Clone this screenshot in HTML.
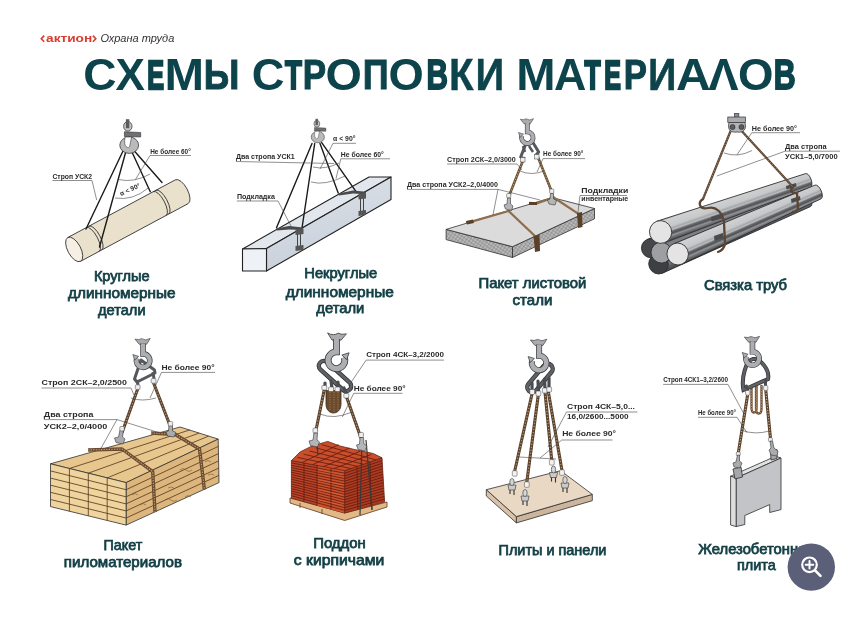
<!DOCTYPE html>
<html><head><meta charset="utf-8"><style>
html,body{margin:0;padding:0;background:#fff;width:867px;height:633px;overflow:hidden}
svg{display:block;will-change:transform;filter:blur(0.35px)}
.t{font-family:"Liberation Sans",sans-serif;font-weight:bold}
.lb{font-family:"Liberation Sans",sans-serif;font-weight:normal;fill:#123f45;stroke:#123f45;stroke-width:0.75px;font-size:14.2px}
.an{font-family:"Liberation Sans",sans-serif;font-weight:bold;fill:#2a2a2a;font-size:6.6px}
.ln{stroke:#444;stroke-width:0.6;fill:none}
.sl{stroke:#1a1a1a;stroke-width:1.4;fill:none;stroke-linecap:round}
.rope{stroke:#5a412c;stroke-width:3.1;fill:none;stroke-linecap:round}
.ropeh{stroke:#ae9272;stroke-width:1.3;fill:none;stroke-dasharray:1.3 1.7}
.hk{fill:#a9abae;stroke:#3a3a3a;stroke-width:0.8}
.hkd{fill:#6e7074;stroke:#2a2a2a;stroke-width:0.8}
.ed{stroke:#2e2e2e;stroke-width:0.8}
</style></head><body>
<svg width="867" height="633" viewBox="0 0 867 633">
<defs>
<linearGradient id="pipeG" x1="0" y1="0" x2="0" y2="1">
<stop offset="0" stop-color="#8e8f91"/>
<stop offset="0.07" stop-color="#d0d1d3"/>
<stop offset="0.4" stop-color="#c7c8ca"/>
<stop offset="0.5" stop-color="#a6a7a9"/>
<stop offset="0.56" stop-color="#bdbec0"/>
<stop offset="0.63" stop-color="#6a6b6e"/>
<stop offset="0.71" stop-color="#505154"/>
<stop offset="0.79" stop-color="#929396"/>
<stop offset="0.88" stop-color="#6c6d70"/>
<stop offset="1" stop-color="#46474a"/>
</linearGradient>
<linearGradient id="pipeD" x1="0" y1="0" x2="0" y2="1">
<stop offset="0" stop-color="#6a6d71"/>
<stop offset="0.5" stop-color="#8a8d91"/>
<stop offset="1" stop-color="#3e4044"/>
</linearGradient>

<g id="hk">
<path d="M-8.2,0 Q-4,1.2 -1,-0.6 Q3,2.2 8.2,-0.8 L4.3,5.5 L-3.6,5.5 Z" fill="#a9abae" stroke="#3a3a3a" stroke-width="0.7" stroke-linejoin="round"/>
<path d="M0.5,4.5 L0.5,15.75 A7.25,7.25 0 1 1 -6.3,20.5" fill="none" stroke="#3a3a3a" stroke-width="6"/>
<path d="M0.5,4.5 L0.5,15.75 A7.25,7.25 0 1 1 -6.3,20.5" fill="none" stroke="#acaeb1" stroke-width="4.6"/>
<path d="M-10.5,16.5 L-4.2,18.5 L-8.5,22.5 Z" fill="#acaeb1" stroke="#3a3a3a" stroke-width="0.7" stroke-linejoin="round"/>
</g>
<g id="hkA">
<ellipse cx="0.2" cy="7.1" rx="4.2" ry="4.8" fill="#c4c5c7" stroke="#3a3a3a" stroke-width="0.8"/>
<rect x="-1.7" y="0" width="3.4" height="9" fill="#5a5b5e"/>
<path d="M-3.2,12.5 L13.1,13.3 L13.1,17.8 L-3.2,17.3 Z" fill="#6f7073" stroke="#333" stroke-width="0.6"/>
<ellipse cx="1.6" cy="26" rx="9.4" ry="8.2" fill="#b9babc" stroke="#3a3a3a" stroke-width="0.8"/>
<path d="M-2.5,17.8 L4,17.8 L2,27.5 C1,29 -1.5,28.5 -2.5,26 C-3.2,24 -3,20 -2.5,17.8 Z" fill="#fff" stroke="#3a3a3a" stroke-width="0.6"/>
</g>
<pattern id="hatch" width="3" height="3" patternUnits="userSpaceOnUse" patternTransform="rotate(35)">
<rect width="3" height="3" fill="#b9b9b9"/>
<path d="M0,0 L3,0 M0,0 L0,3" stroke="#7d7d7d" stroke-width="0.9"/>
</pattern>
<linearGradient id="beamS" x1="0" y1="0" x2="0.3" y2="1">
<stop offset="0" stop-color="#dde2e9"/>
<stop offset="1" stop-color="#c9d0da"/>
</linearGradient>
</defs>

<!-- logo -->
<path d="M44.2,35.6 L41.3,38.7 L44.2,41.8" fill="none" stroke="#dc3a2c" stroke-width="1.6" stroke-linejoin="miter"/>
<path d="M92.9,35.6 L95.8,38.7 L92.9,41.8" fill="none" stroke="#dc3a2c" stroke-width="1.6" stroke-linejoin="miter"/>
<text x="46.1" y="41.8" class="t" font-size="11.8" fill="#dc3a2c" textLength="46.1" lengthAdjust="spacingAndGlyphs">актион</text>
<text x="100.4" y="41.8" font-family="Liberation Sans" font-style="italic" font-size="10.5" fill="#333" textLength="73.9" lengthAdjust="spacingAndGlyphs">Охрана труда</text>

<!-- title -->
<g class="t" font-size="44.2" fill="#0d434b">
<text transform="translate(85.2,89.9) scale(1.042,1)" x="-1.80">С</text>
<text transform="translate(115.8,89.9) scale(0.997,1)" x="-0.40">Х</text>
<text transform="translate(149.04,88.86) scale(0.611,1)" x="-2.79" font-size="41.18" stroke="#0d434b" stroke-width="2.08" vector-effect="non-scaling-stroke">Е</text>
<text transform="translate(167.8,89.9) scale(1.074,1)" x="-3.00">М</text>
<text transform="translate(206.16,89.44) scale(0.848,1)" x="-2.91" font-size="42.86" stroke="#0d434b" stroke-width="0.92" vector-effect="non-scaling-stroke">Ы</text>
<text transform="translate(253.6,89.9) scale(1.024,1)" x="-1.80">С</text>
<text transform="translate(285.21,88.99) scale(0.666,1)" x="-0.47" font-size="41.55" stroke="#0d434b" stroke-width="1.82" vector-effect="non-scaling-stroke">Т</text>
<text transform="translate(305.00,89.40) scale(0.819,1)" x="-2.90" font-size="42.73" stroke="#0d434b" stroke-width="1.01" vector-effect="non-scaling-stroke">Р</text>
<text transform="translate(327.5,89.9) scale(1.059,1)" x="-1.80">О</text>
<text transform="translate(365.06,89.45) scale(0.839,1)" x="-2.91" font-size="42.88" stroke="#0d434b" stroke-width="0.91" vector-effect="non-scaling-stroke">П</text>
<text transform="translate(390.4,89.9) scale(1.026,1)" x="-1.80">О</text>
<text transform="translate(428.41,89.09) scale(0.710,1)" x="-2.84" font-size="41.86" stroke="#0d434b" stroke-width="1.61" vector-effect="non-scaling-stroke">В</text>
<text transform="translate(451.71,89.69) scale(0.924,1)" x="-2.96" font-size="43.59" stroke="#0d434b" stroke-width="0.42" vector-effect="non-scaling-stroke">К</text>
<text transform="translate(478.23,89.67) scale(0.919,1)" x="-2.86" font-size="43.53" stroke="#0d434b" stroke-width="0.46" vector-effect="non-scaling-stroke">И</text>
<text transform="translate(519.4,89.9) scale(1.068,1)" x="-3.00">М</text>
<text transform="translate(555.0,89.9) scale(1.014,1)" x="-1.10">А</text>
<text transform="translate(584.78,88.92) scale(0.639,1)" x="-0.47" font-size="41.35" stroke="#0d434b" stroke-width="1.96" vector-effect="non-scaling-stroke">Т</text>
<text transform="translate(605.95,88.85) scale(0.606,1)" x="-2.79" font-size="41.15" stroke="#0d434b" stroke-width="2.1" vector-effect="non-scaling-stroke">Е</text>
<text transform="translate(626.22,89.39) scale(0.814,1)" x="-2.90" font-size="42.70" stroke="#0d434b" stroke-width="1.03" vector-effect="non-scaling-stroke">Р</text>
<text transform="translate(650.65,89.65) scale(0.911,1)" x="-2.85" font-size="43.46" stroke="#0d434b" stroke-width="0.51" vector-effect="non-scaling-stroke">И</text>
<text transform="translate(677.2,89.9) scale(1.088,1)" x="-1.10">А</text>
<text transform="translate(708.5,89.9) scale(1.028,1)" x="-0.30">Λ</text>
<text transform="translate(739.8,89.9) scale(1.033,1)" x="-1.80">О</text>
<text transform="translate(775.77,89.13) scale(0.723,1)" x="-2.85" font-size="41.96" stroke="#0d434b" stroke-width="1.54" vector-effect="non-scaling-stroke">В</text>

</g>

<!-- ============ PANEL 1 ============ -->
<g id="p1">
<g transform="translate(74.2,249.4) rotate(-28.2)">
<path d="M0,-13.5 L122,-13.5 A6,13.5 0 0 1 122,13.5 L0,13.5 Z" fill="#e9e1cb" class="ed"/>
<ellipse cx="0" cy="0" rx="6.5" ry="13.5" fill="#f5f0e3" class="ed"/>
<path d="M21,-13.5 A5,13.5 0 0 1 21,13.5 M24,-13.5 A5,13.5 0 0 1 24,13.5" class="ed" fill="none"/>
<path d="M97,-13.5 A5,13.5 0 0 1 97,13.5 M100,-13.5 A5,13.5 0 0 1 100,13.5" class="ed" fill="none"/>
</g>
<path class="sl" d="M123,151 L86,229 M126,151 L99.5,247 M131.5,151 L150.3,191.7 M133.5,150 L162,182.5"/>
<use href="#hkA" transform="translate(127.6,119.2)"/>
<!-- annotations -->
<text x="150.2" y="153.5" class="an" textLength="40.6" lengthAdjust="spacingAndGlyphs">Не более 60°</text>
<path class="ln" d="M150,155.5 L191,155.5 M150,155.5 L135.4,179.6"/>
<text x="52.4" y="178.6" class="an" textLength="39.6" lengthAdjust="spacingAndGlyphs">Строп УСК2</text>
<path class="ln" d="M52.4,180.5 L92,180.5 L96.7,200"/>
<path class="ln" d="M118.8,179.6 Q134,183 150.2,174 M115,198 Q133,201 148.3,187.9"/>
<text transform="translate(121,196) rotate(-24)" class="an" font-size="6.2">α &lt; 90°</text>
</g>

<!-- ============ PANEL 2 ============ -->
<g id="p2">
<path d="M242.5,249 L266.5,248.5 L391,177 L369,177 Z" fill="#e2e7ee" stroke="#222" stroke-width="1.1" stroke-linejoin="round"/>
<path d="M266.5,248.5 L266.5,271 L391,199.5 L391,177 Z" fill="url(#beamS)" stroke="#222" stroke-width="1.1" stroke-linejoin="round"/>
<path d="M242.5,249 L266.5,248.5 L266.5,271 L242.5,271 Z" fill="#eef1f6" stroke="#222" stroke-width="1.1" stroke-linejoin="round"/>
<path class="sl" d="M312,143.5 L276.5,227.7 M314.7,143.5 L301.7,230 M320,143.5 L338.2,193 M321.7,142.6 L356.4,192.1"/>
<path d="M276,228.5 L289,226 L303,227.5 L302.5,230 L289,229.5 L277,230.5 Z" fill="#4a4a4a"/>
<path d="M338,193.5 L353,190.5 L366,191.8 L365.5,194.3 L353,193.5 L339,195.5 Z" fill="#4a4a4a"/>
<path d="M295.5,229.5 L303.5,228.5 L303.5,234 L295.5,235 Z" fill="#555"/>
<path d="M358.5,194 L366,193 L366,198.5 L358.5,199.5 Z" fill="#555"/>
<path d="M297.5,234 L297.5,250 M300.5,233.5 L300.5,249" stroke="#444" stroke-width="1"/>
<path d="M360.5,199 L360.5,215 M363.5,198.5 L363.5,214" stroke="#444" stroke-width="1"/>
<path d="M295.5,246 L303.5,245 L303.5,250 L295.5,251 Z" fill="#555"/>
<path d="M358.5,211 L366,210 L366,215 L358.5,216 Z" fill="#555"/>
<use href="#hkA" transform="translate(316.7,118.8) scale(0.7)"/>
<text x="333" y="141.2" class="an" textLength="22.5" lengthAdjust="spacingAndGlyphs">α &lt; 90°</text>
<path class="ln" d="M333,143.3 L356,143.3 M333,143.3 L320,169"/>
<text x="340.8" y="156.6" class="an" textLength="43" lengthAdjust="spacingAndGlyphs">Не более 60°</text>
<path class="ln" d="M340.8,158.8 L390,158.8 M340.8,158.8 L336,178.6"/>
<text x="235.9" y="158.8" class="an" textLength="58.8" lengthAdjust="spacingAndGlyphs">Два стропа УСК1</text>
<path class="ln" d="M235.9,161.5 L334,163.5"/>
<text x="236.9" y="198.8" class="an" textLength="38" lengthAdjust="spacingAndGlyphs">Подкладка</text>
<path class="ln" d="M236.9,201 L278,201 L292,228"/>
<path class="ln" d="M313,167 Q325,170 339,163 M311,182 Q325,186 345,176"/>
</g>

<!-- ============ PANEL 3 ============ -->
<g id="p3">
<path d="M446.1,229.4 L512.5,246.7 L512.5,257.5 L446.1,239.6 Z" fill="url(#hatch)" class="ed"/>
<path d="M512.5,246.7 L594.5,208.5 L594.5,218.8 L512.5,257.5 Z" fill="url(#hatch)" class="ed"/>
<path d="M446.1,229.4 L552,197.5 L594.5,208.5 L512.5,246.7 Z" fill="#dbdbdb" class="ed"/>
<g stroke="#6e5236" stroke-width="2.6" fill="none" stroke-linecap="round">
<path d="M524,158 L509,196"/>
<path d="M537.5,156 L551.5,191"/>
</g>
<g stroke="#c2a67e" stroke-width="1" fill="none" stroke-dasharray="1.2 1.6">
<path d="M524,158 L509,196"/>
<path d="M537.5,156 L551.5,191"/>
</g>
<g stroke="#8f6e4c" stroke-width="2.3" fill="none" stroke-linecap="round" stroke-linejoin="round">
<path d="M508.6,211 L472.4,221.3 L467,222.5"/>
<path d="M508.6,211 L536,237 L537.5,249"/>
<path d="M553.7,197.5 L536,203.6 L530,203"/>
<path d="M553.7,197.5 L579.2,214.4 L580,226"/>
</g>
<g fill="#5a4028">
<path d="M533.5,236 L539.5,235 L540,251 L535,252 Z"/>
<path d="M577,213 L582,212 L582.5,227 L578,228 Z"/>
<path d="M466,221 L473,219.5 L474,223 L467,224.5 Z"/>
<path d="M529,202 L537,202 L537,205 L529,205 Z"/>
</g>
<rect x="506.6" y="193.5" width="4.2" height="4.4" rx="1" fill="#eee" stroke="#444" stroke-width="0.5"/>
<rect x="549.6" y="189" width="4.2" height="4.4" rx="1" fill="#eee" stroke="#444" stroke-width="0.5"/>
<path d="M507.5,198 L507,204 L504,205 L505.5,209 L511.5,210.5 L513,206 L510.5,204 L510.5,198 Z" fill="#b3b5b8" stroke="#333" stroke-width="0.6"/>
<path d="M550.5,193.5 L550,199 L547.5,200 L549,204 L555,205 L556.5,200.5 L553.5,199 L553.5,193.5 Z" fill="#b3b5b8" stroke="#333" stroke-width="0.6"/>
<path d="M527,141 L520.7,157 L524,159 M532,141 L538.7,152 L536,155" fill="none" stroke="#55585c" stroke-width="3" stroke-linejoin="round"/>
<path d="M523,146 L525,152 M529,146 L533,152" stroke="#55585c" stroke-width="2.5"/>
<rect x="520.5" y="157.5" width="4.5" height="4.5" fill="#eee" stroke="#444" stroke-width="0.5"/>
<rect x="534.5" y="154.5" width="4.5" height="4.5" fill="#eee" stroke="#444" stroke-width="0.5"/>
<use href="#hk" transform="translate(526.9,119.3) scale(0.8)"/>
<text x="447.1" y="161.8" class="an" textLength="68.7" lengthAdjust="spacingAndGlyphs">Строп 2СК–2,0/3000</text>
<path class="ln" d="M447.1,164 L517,164 L522,170"/>
<text x="543" y="156" class="an" textLength="40.4" lengthAdjust="spacingAndGlyphs">Не более 90°</text>
<path class="ln" d="M543,158.6 L585,158.6 M543,158.6 L537,172"/>
<path class="ln" d="M520,171 Q531,176 544,171"/>
<text x="407" y="187" class="an" textLength="91" lengthAdjust="spacingAndGlyphs">Два стропа УСК2–2,0/4000</text>
<path class="ln" d="M407,189.4 L498,189.4 L493,215 M498,189.4 L540,200"/>
<text x="581.3" y="193.4" class="an" font-size="7" textLength="47" lengthAdjust="spacingAndGlyphs">Подкладки</text>
<text x="581.3" y="201.4" class="an" font-size="7" textLength="47" lengthAdjust="spacingAndGlyphs">инвентарные</text>
<path class="ln" d="M580,195.5 L627,195.5 M580,195.5 L578,212"/>
</g>

<!-- ============ PANEL 4 ============ -->
<g id="p4">
<g transform="translate(658.5,264) rotate(-23.18)"><path d="M0,-10.0 L162.6,-7.0 A3.1,7.0 0 0 1 162.6,7.0 L0,10.0 Z" fill="url(#pipeD)" class="ed"/><ellipse cx="0" cy="0" rx="9.7" ry="10.0" fill="#3d3f43" class="ed"/></g>
<g transform="translate(650.7,248.3) rotate(-22.65)"><path d="M0,-9.5 L161.8,-6.5 A2.9,6.5 0 0 1 161.8,6.5 L0,9.5 Z" fill="url(#pipeD)" class="ed"/><ellipse cx="0" cy="0" rx="9.2" ry="9.5" fill="#45474b" class="ed"/></g>
<g transform="translate(661.3,252.6) rotate(-23.39)"><path d="M0,-10.5 L157.7,-7.0 A3.1,7.0 0 0 1 157.7,7.0 L0,10.5 Z" fill="url(#pipeD)" class="ed"/><ellipse cx="0" cy="0" rx="10.2" ry="10.5" fill="#9d9fa2" class="ed"/></g>
<g transform="translate(660.6,232) rotate(-19.26)"><path d="M0,-11.4 L156.1,-7.3 A3.3,7.3 0 0 1 156.1,7.3 L0,11.4 Z" fill="url(#pipeG)" class="ed"/><ellipse cx="0" cy="0" rx="11.1" ry="11.4" fill="#e4e4e4" class="ed"/></g>
<g transform="translate(677.7,254) rotate(-23.84)"><path d="M0,-11.0 L153.4,-7.5 A3.4,7.5 0 0 1 153.4,7.5 L0,11.0 Z" fill="url(#pipeG)" class="ed"/><ellipse cx="0" cy="0" rx="10.7" ry="11.0" fill="#e4e4e4" class="ed"/></g>
<g fill="#4a4b4e">
<path d="M711,217 L723,213.5 L723.5,218 L711.5,221.5 Z"/>
<path d="M714,236 L723,233 L723.5,238 L714.5,241 Z"/>
<path d="M786,186 L796,183 L796.5,186.5 L786.5,189.5 Z"/>
<path d="M791,199 L800,196 L800.5,200 L791.5,203 Z"/>
</g>
<g stroke="#5c4532" stroke-width="2.3" fill="none" stroke-linecap="round">
<path d="M730.6,131 L703,199"/>
<path d="M741.7,131 L793,187"/>
<path d="M703,199 C697,203 700,210 708,208 C716,206 722,212 724,222 L725,244 C724,249 721,251 718,252"/>
<path d="M793,187 C789,190 792,194 797,193 L798,208 C797,211 795,212 793,212"/>
</g>
<g stroke="#b09070" stroke-width="0.9" fill="none" stroke-dasharray="1.2 1.6">
<path d="M730.6,131 L703,199"/>
<path d="M741.7,131 L793,187"/>
</g>
<rect x="734.3" y="113.3" width="4.6" height="4" fill="#8a8b8e" stroke="#333" stroke-width="0.6"/>
<rect x="727.8" y="117" width="17.6" height="5.5" fill="#a9abae" stroke="#333" stroke-width="0.7"/>
<path d="M729,122.5 C727,130 731,133 737,132 C743,133 747,130 745,122.5 Z" fill="#b3b5b8" stroke="#333" stroke-width="0.7"/>
<circle cx="732.5" cy="127" r="2.6" fill="#5a5b5e" stroke="#222" stroke-width="0.5"/>
<circle cx="741.5" cy="127" r="2.6" fill="#5a5b5e" stroke="#222" stroke-width="0.5"/>
<text x="751.8" y="130.6" class="an" textLength="45.2" lengthAdjust="spacingAndGlyphs">Не более 90°</text>
<path class="ln" d="M751.8,132.7 L800,132.7 M751.8,132.7 L737,154.8"/>
<path class="ln" d="M724,153 Q738,158 752,150.5"/>
<text x="785" y="149" class="an" textLength="41.6" lengthAdjust="spacingAndGlyphs">Два стропа</text>
<text x="785" y="159.2" class="an" textLength="52.6" lengthAdjust="spacingAndGlyphs">УСК1–5,0/7000</text>
<path class="ln" d="M785,151.2 L840,151.2 M785,151.2 L716.8,176"/>
</g>

<!-- ============ PANEL 5 ============ -->
<g id="p5">
<path d="M50.5,463.8 L126.1,482.6 L218.2,439.1 L180,427 Z" fill="#e8c78e" class="ed"/>
<path d="M126.1,482.6 L218.2,439.1 L219,482.6 L126.1,525.1 Z" fill="#ddb67d" class="ed"/>
<path d="M50.5,463.8 L126.1,482.6 L126.1,525.1 L50.5,506.6 Z" fill="#f0d49e" class="ed"/>
<g stroke="#5a3c22" stroke-width="0.85" fill="none">
<path d="M69.4,468.5 L69.4,511.2 M88.3,473.2 L88.3,515.9 M107.2,477.9 L107.2,520.5 M50.5,470.9 L126.1,489.7 L218.3,446.4 M50.5,478.1 L126.1,496.8 L218.5,453.6 M50.5,485.2 L126.1,503.9 L218.6,460.9 M50.5,492.3 L126.1,510.9 L218.7,468.1 M50.5,499.5 L126.1,518.0 L218.9,475.4 M69.4,468.5 L189.6,430.0 M88.3,473.2 L199.1,433.1 M107.2,477.9 L208.6,436.1 "/>
</g>
<g stroke="#6a4b30" stroke-width="3.4" fill="none" stroke-linejoin="round">
<path d="M88,450 L122,449 L152.7,471.7 L155,512"/>
<path d="M151,433 L175.3,434.5 L199.5,449 L204.4,489.5"/>
</g>
<g stroke="#c4a27a" stroke-width="1.1" fill="none" stroke-dasharray="1.3 1.3" stroke-linejoin="round">
<path d="M88,450 L122,449 L152.7,471.7 L155,512"/>
<path d="M151,433 L175.3,434.5 L199.5,449 L204.4,489.5"/>
</g>
<g stroke="#7a5a2e" stroke-width="0.6" fill="none">
<path d="M165,500 q3,-3 6,0 q3,3 6,0 M140,505 q3,-3 6,0 M180,470 q3,-3 6,0 q3,3 6,0 M205,462 q3,-3 6,0 M168,488 q3,-2 6,0 M132,495 q3,-3 6,0 M185,497 q3,-3 6,0 M208,475 q3,-2 6,0"/>
</g>
<g class="rope">
<path d="M137.7,389 L122.3,432"/>
<path d="M153.6,383 L170.7,427.3"/>
</g>
<g class="ropeh">
<path d="M137.7,389 L122.3,432"/>
<path d="M153.6,383 L170.7,427.3"/>
</g>
<path d="M141,360 L134.5,379 L137,382 L155,373 L154.5,370 Z" fill="none" stroke="#55585c" stroke-width="3" stroke-linejoin="round"/>
<path d="M137,380 L138,385 M153,372 L154,379" stroke="#55585c" stroke-width="3"/>
<rect x="135.3" y="384.8" width="4.8" height="4.6" rx="1" fill="#eee" stroke="#444" stroke-width="0.5"/>
<rect x="151.2" y="378.6" width="4.8" height="4.6" rx="1" fill="#eee" stroke="#444" stroke-width="0.5"/>
<use href="#hk" transform="translate(142.6,339.2) scale(0.93)"/>
<path d="M120,430 L118.5,437 L114.5,438 L116,442.5 L123,444 L125,439 L122.5,437 L123.5,430 Z" fill="#a9abae" stroke="#333" stroke-width="0.6"/>
<path d="M169,425 L168.5,431 L166,432 L167.5,436 L174,437 L176,432.5 L172.5,431 L172.5,425 Z" fill="#a9abae" stroke="#333" stroke-width="0.6"/>
<rect x="119.8" y="426.5" width="4.4" height="4.4" rx="1" fill="#eee" stroke="#444" stroke-width="0.5"/>
<rect x="168.2" y="421.5" width="4.4" height="4.4" rx="1" fill="#eee" stroke="#444" stroke-width="0.5"/>
<text x="161.5" y="369.6" class="an" font-size="7.6" textLength="53" lengthAdjust="spacingAndGlyphs">Не более 90°</text>
<path class="ln" d="M161.5,372.4 L215,372.4 M161.5,372.4 L150,398"/>
<path class="ln" d="M131,398 Q142,402 156,398"/>
<text x="41.5" y="385" class="an" font-size="7.6" textLength="85.4" lengthAdjust="spacingAndGlyphs">Строп 2СК–2,0/2500</text>
<path class="ln" d="M41.5,388 L131,388 L134,395"/>
<text x="43.8" y="416.9" class="an" font-size="7.6" textLength="49.6" lengthAdjust="spacingAndGlyphs">Два стропа</text>
<text x="43.8" y="428.6" class="an" font-size="7.6" textLength="63.5" lengthAdjust="spacingAndGlyphs">УСК2–2,0/4000</text>
<path class="ln" d="M43.8,419.6 L117,419.6 L100,450 M117,419.6 L160,433"/>
</g>

<!-- ============ PANEL 6 ============ -->
<g id="p6">
<path d="M290,498 L344.7,513 L387,502 L387,507 L344.7,520.5 L290,503 Z" fill="#e2b887" stroke="#5a3a20" stroke-width="0.8"/>
<path d="M291.4,460.6 L344.7,470.6 L344.7,513 L291.4,498 Z" fill="#bd4429" stroke="#6a2414" stroke-width="0.8"/>
<path d="M317,465.6 L344.7,470.6 L344.7,513 L317,505.5 Z" fill="#cc512d"/>
<path d="M344.7,470.6 L382,457.8 L384.6,501.9 L344.7,513 Z" fill="#ad3b22" stroke="#6a2414" stroke-width="0.8"/>
<path d="M291.4,460.6 L300,452 L312,446 L327.7,441.4 L340,446 L353.3,449.2 L373.2,453.5 L382,457.8 L344.7,470.6 Z" fill="#c94e2c" stroke="#6a2414" stroke-width="0.8" stroke-linejoin="round"/>
<g stroke="#641c0d" stroke-width="0.85" fill="none">
<path d="M291.4,462.9 L344.7,473.2 L382.2,460.6 M291.4,465.3 L344.7,475.9 L382.3,463.3 M291.4,467.6 L344.7,478.6 L382.5,466.1 M291.4,470.0 L344.7,481.2 L382.6,468.8 M291.4,472.3 L344.7,483.9 L382.8,471.6 M291.4,474.6 L344.7,486.5 L383.0,474.3 M291.4,477.0 L344.7,489.2 L383.1,477.1 M291.4,479.3 L344.7,491.8 L383.3,479.9 M291.4,481.6 L344.7,494.4 L383.5,482.6 M291.4,484.0 L344.7,497.1 L383.6,485.4 M291.4,486.3 L344.7,499.8 L383.8,488.1 M291.4,488.6 L344.7,502.4 L383.9,490.9 M291.4,491.0 L344.7,505.1 L384.1,493.6 M291.4,493.3 L344.7,507.7 L384.3,496.4 M291.4,495.7 L344.7,510.4 L384.4,499.1 M317,465.6 L317,505.5 M304,463 L304,501.6 M331,468 L331,509 M357,466.3 L357.8,509.5 M370,461.8 L371,506 M297.4,457.4 L350.9,468.5 M303.5,454.2 L357.1,466.3 M309.5,451.0 L363.4,464.2 M315.6,447.8 L369.6,462.1 M321.6,444.6 L375.8,459.9 M302.1,462.6 L338.6,444.7 M312.7,464.6 L349.4,448.0 M323.4,466.6 L360.3,451.2 M334.0,468.6 L371.1,454.5 "/>
</g>
<g stroke="#e8845c" stroke-width="0.5" fill="none" opacity="0.7">
<path d="M318,470 L343,475 M318,480 L343,485 M318,490 L343,495 M318,500 L343,505"/>
</g>
<path d="M300,508 L300,503 M322,514 L322,509 M372,510 L372,505" stroke="#5a3a20" stroke-width="0.8"/>
<g class="rope">
<path d="M324.6,388 L315.3,433.8"/>
<path d="M346.4,396.4 L361,438"/>
</g>
<g class="ropeh" stroke="#d8c8a8">
<path d="M324.6,388 L315.3,433.8"/>
<path d="M346.4,396.4 L361,438"/>
</g>
<path d="M362,440 L360,515 M366,440 L372,510" stroke="#3a3a3a" stroke-width="1.2" fill="none"/>
<path d="M316,436 L318,455" stroke="#3a3a3a" stroke-width="1.2"/>
<path d="M326,390 L326,404 C326,416 341,416 341,404 L341,390" fill="#6b4a2e" stroke="#3a2a1a" stroke-width="0.8"/>
<path d="M330,392 L330,410 M334,392 L334,412 M338,392 L338,410" stroke="#a88860" stroke-width="0.8" stroke-dasharray="1.2 1.2"/>
<g transform="translate(335,376) rotate(42)"><rect x="-20" y="-5" width="40" height="10" rx="5" fill="none" stroke="#2e2e2e" stroke-width="4.4"/><rect x="-20" y="-5" width="40" height="10" rx="5" fill="none" stroke="#5e6165" stroke-width="3"/></g>
<path d="M325,383 L325,387 M331,381 L332,388 M338,382 L338,388 M344,388 L346,394" stroke="#4a4c50" stroke-width="3.2" stroke-linecap="round"/>
<g fill="#f2f2f2" stroke="#444" stroke-width="0.5">
<rect x="321.8" y="385.5" width="5" height="4.5" rx="1"/>
<rect x="328.5" y="387" width="5" height="4.5" rx="1"/>
<rect x="335" y="387" width="5" height="4.5" rx="1"/>
<rect x="343.8" y="393.5" width="5" height="4.5" rx="1"/>
</g>
<use href="#hk" transform="translate(337,333.8) scale(-1.15,1.15)"/>
<rect x="313" y="428" width="4.6" height="5" rx="1" fill="#eee" stroke="#444" stroke-width="0.5"/>
<rect x="358.8" y="432.5" width="4.6" height="5" rx="1" fill="#eee" stroke="#444" stroke-width="0.5"/>
<path d="M314,433 L313,440 L309,441 L310.5,445.5 L317.5,447 L319.5,442 L317,440 L317.5,433 Z" fill="#b3b5b8" stroke="#333" stroke-width="0.6"/>
<path d="M360,437.5 L359.5,444 L356.5,445 L358,449.5 L365,451 L367,446 L364,444 L363.5,437.5 Z" fill="#b3b5b8" stroke="#333" stroke-width="0.6"/>
<text x="366.2" y="357.2" class="an" font-size="7.4" textLength="77.8" lengthAdjust="spacingAndGlyphs">Строп 4СК–3,2/2000</text>
<path class="ln" d="M366.2,360.1 L444,360.1 M366.2,360.1 L348.5,386"/>
<text x="353.7" y="391.3" class="an" font-size="7.4" textLength="51.9" lengthAdjust="spacingAndGlyphs">Не более 90°</text>
<path class="ln" d="M353.7,393.3 L402.5,393.3 M353.7,393.3 L342.3,417"/>
<path class="ln" d="M320,414 Q334,420 352,412"/>
</g>

<!-- ============ PANEL 7 ============ -->
<g id="p7">
<path d="M486.3,489.7 L516.4,516.6 L516.4,522.9 L486.3,496 Z" fill="#d8c2aa" class="ed"/>
<path d="M516.4,516.6 L592.3,494.4 L592.3,500.7 L516.4,522.9 Z" fill="#ccb59c" class="ed"/>
<path d="M486.3,489.7 L560.6,470.7 L592.3,494.4 L516.4,516.6 Z" fill="#e9d8c4" class="ed"/>
<g class="rope" stroke-width="2.3">
<path d="M532.2,393.2 L514.7,471"/>
<path d="M538.5,393.2 L526.8,482"/>
<path d="M544.8,390 L551.7,460"/>
<path d="M548,390 L561.9,470"/>
</g>
<g class="ropeh" stroke="#d8c8a8">
<path d="M532.2,393.2 L514.7,471"/>
<path d="M538.5,393.2 L526.8,482"/>
<path d="M544.8,390 L551.7,460"/>
<path d="M548,390 L561.9,470"/>
</g>
<g transform="translate(540,378) rotate(-50)"><rect x="-17" y="-5" width="34" height="10" rx="5" fill="none" stroke="#2e2e2e" stroke-width="4.4"/><rect x="-17" y="-5" width="34" height="10" rx="5" fill="none" stroke="#5e6165" stroke-width="3"/></g>
<path d="M532,383 L532,390 M538,381 L538.5,391 M544.5,379 L545,389 M549,378 L549,388" stroke="#4a4c50" stroke-width="3.2" stroke-linecap="round"/>
<g fill="#f2f2f2" stroke="#444" stroke-width="0.5">
<rect x="529.8" y="389.5" width="4.8" height="5" rx="1"/>
<rect x="536" y="391" width="4.8" height="5" rx="1"/>
<rect x="542.4" y="388" width="4.8" height="5" rx="1"/>
<rect x="546.8" y="387" width="4.8" height="5" rx="1"/>
</g>
<use href="#hk" transform="translate(538.6,340)"/>
<g fill="#f2f2f2" stroke="#444" stroke-width="0.5">
<rect x="512.3" y="470.7" width="4.8" height="5.5" rx="1"/>
<rect x="524.4" y="481.8" width="4.8" height="5.5" rx="1"/>
<rect x="549.4" y="459.6" width="4.8" height="5.5" rx="1"/>
<rect x="559.6" y="469.8" width="4.8" height="5.5" rx="1"/>
</g>
<path d="M508,485 L516,485 L515,490 L509,490 Z" fill="#c9cacc" stroke="#333" stroke-width="0.6"/><ellipse cx="512" cy="482" rx="2.2" ry="3.5" fill="#d5d6d8" stroke="#333" stroke-width="0.6"/><path d="M510,490 L510,494 M514,490 L514,495" stroke="#333" stroke-width="1.1"/>
<path d="M521,496 L529,496 L528,501 L522,501 Z" fill="#c9cacc" stroke="#333" stroke-width="0.6"/><ellipse cx="525" cy="493" rx="2.2" ry="3.5" fill="#d5d6d8" stroke="#333" stroke-width="0.6"/><path d="M523,501 L523,505 M527,501 L527,506" stroke="#333" stroke-width="1.1"/>
<path d="M549.5,472.5 L557.5,472.5 L556.5,477.5 L550.5,477.5 Z" fill="#c9cacc" stroke="#333" stroke-width="0.6"/><ellipse cx="553.5" cy="469.5" rx="2.2" ry="3.5" fill="#d5d6d8" stroke="#333" stroke-width="0.6"/><path d="M551.5,477.5 L551.5,481.5 M555.5,477.5 L555.5,482.5" stroke="#333" stroke-width="1.1"/>
<path d="M561,483 L569,483 L568,488 L562,488 Z" fill="#c9cacc" stroke="#333" stroke-width="0.6"/><ellipse cx="565" cy="480" rx="2.2" ry="3.5" fill="#d5d6d8" stroke="#333" stroke-width="0.6"/><path d="M563,488 L563,492 M567,488 L567,493" stroke="#333" stroke-width="1.1"/>
<text x="567" y="409.4" class="an" font-size="7.9" textLength="68" lengthAdjust="spacingAndGlyphs">Строп 4СК–5,0...</text>
<text x="567" y="419.4" class="an" font-size="7.9" font-weight="normal" textLength="61.6" lengthAdjust="spacingAndGlyphs">16,0/2600...5000</text>
<path class="ln" d="M566.5,412 L637.5,412 M566.5,412 L548,447"/>
<text x="562.2" y="436.3" class="an" font-size="7.9" textLength="53.8" lengthAdjust="spacingAndGlyphs">Не более 90°</text>
<path class="ln" d="M561.8,440 L612.6,440 M561.8,440 L540,458"/>
<path class="ln" d="M519,457 L556,459"/>
</g>

<!-- ============ PANEL 8 ============ -->
<g id="p8">
<path d="M730.6,476.2 L736.3,478 L781,458 L775.5,456.3 Z" fill="#e2e2e4" class="ed"/>
<path d="M730.6,476.2 L736.3,478 L736.3,526.6 L730.6,525 Z" fill="#dedee0" class="ed"/>
<path d="M736.3,478 L781,458 L781,509.6 L769.7,512.5 L769.7,504.6 L744.8,515.5 L744.8,524.5 L736.3,526.6 Z" fill="#c3c4c7" class="ed" stroke-linejoin="round"/>
<path d="M733,469 L741,467 L742.5,477 L735,479 Z" fill="#a6a7aa" class="ed"/>
<path d="M770.5,451 L777,449.5 L777,458.5 L771,460 Z" fill="#a6a7aa" class="ed"/>
<path d="M751.5,385 L751.5,408 C751.5,414 756.5,414 756.5,408 L756.5,385" fill="none" stroke="#6b4a2e" stroke-width="2.3"/>
<path d="M756,385 L756,409 C756,415 761.5,415 761.5,409 L761.5,385" fill="none" stroke="#6b4a2e" stroke-width="2.3"/>
<path d="M751.5,385 L751.5,408 C751.5,414 756.5,414 756.5,408 L756.5,385 M756,385 L756,409 C756,415 761.5,415 761.5,409 L761.5,385" fill="none" stroke="#c8a67c" stroke-width="0.8" stroke-dasharray="1.2 1.4"/>
<g stroke="#5a412c" stroke-width="3.1" fill="none" stroke-linecap="round">
<path d="M747.6,395 L738.3,453"/>
<path d="M765.8,390.4 L770.4,437.7"/>
</g>
<g stroke="#d8c8a8" stroke-width="1" fill="none" stroke-dasharray="1.2 1.6">
<path d="M747.6,395 L738.3,453"/>
<path d="M765.8,390.4 L770.4,437.7"/>
</g>
<path d="M753,359 C746,360 741,378 743.5,390 L768,379 C770,371 761,358 753,359 Z" fill="none" stroke="#2e2e2e" stroke-width="4"/>
<path d="M753,359 C746,360 741,378 743.5,390 L768,379 C770,371 761,358 753,359 Z" fill="none" stroke="#5e6165" stroke-width="2.6"/>
<path d="M746.5,386 L747.5,391 M765.5,380 L765.5,386" stroke="#4a4c50" stroke-width="3" stroke-linecap="round"/>
<g fill="#f2f2f2" stroke="#444" stroke-width="0.5">
<rect x="745.6" y="390.4" width="4.2" height="4.8" rx="1"/>
<rect x="763.6" y="385.6" width="4.2" height="4.8" rx="1"/>
<rect x="736.3" y="452" width="4" height="3.8" rx="1"/>
<rect x="768.4" y="437.7" width="4" height="3.8" rx="1"/>
</g>
<path d="M737.5,455 L736,462 L733,463 L734,467 L740,468 L742,463 L739.5,461 L739.5,455 Z" fill="#a9abae" stroke="#333" stroke-width="0.6"/>
<path d="M770,441 L771,448 L769,450 L771,455 L777,456 L778,451 L774,448 L772.5,441 Z" fill="#a9abae" stroke="#333" stroke-width="0.6"/>
<use href="#hk" transform="translate(752,337.1) scale(0.93)"/>
<text x="663.2" y="382.3" class="an" font-size="5.8" textLength="64.8" lengthAdjust="spacingAndGlyphs">Строп 4СК1–3,2/2600</text>
<path class="ln" d="M663.2,384.4 L728,384.4 L744,414"/>
<text x="698" y="415.4" class="an" font-size="5.8" textLength="37.9" lengthAdjust="spacingAndGlyphs">Не более 90°</text>
<path class="ln" d="M698,417.3 L737,417.3 L747,432.8"/>
<path class="ln" d="M742,430.5 Q756,435 769,431"/>
</g>

<!-- ============ LABELS ============ -->
<g class="lb">
<text x="93.9" y="281" textLength="55.7" lengthAdjust="spacingAndGlyphs">Круглые</text>
<text x="68" y="298" textLength="107.5" lengthAdjust="spacingAndGlyphs">длинномерные</text>
<text x="98" y="314.6" textLength="47.6" lengthAdjust="spacingAndGlyphs">детали</text>

<text x="304.3" y="278.1" textLength="72.9" lengthAdjust="spacingAndGlyphs">Некруглые</text>
<text x="285.8" y="296.5" textLength="108" lengthAdjust="spacingAndGlyphs">длинномерные</text>
<text x="316.3" y="312.6" textLength="48" lengthAdjust="spacingAndGlyphs">детали</text>

<text x="478.5" y="288" textLength="107.9" lengthAdjust="spacingAndGlyphs">Пакет листовой</text>
<text x="512.6" y="305.2" textLength="39.7" lengthAdjust="spacingAndGlyphs">стали</text>

<text x="704" y="289.9" textLength="83" lengthAdjust="spacingAndGlyphs">Связка труб</text>

<text x="103.5" y="550.3" textLength="38.8" lengthAdjust="spacingAndGlyphs">Пакет</text>
<text x="63.8" y="566.9" textLength="118.2" lengthAdjust="spacingAndGlyphs">пиломатериалов</text>

<text x="313.2" y="548.1" textLength="52.6" lengthAdjust="spacingAndGlyphs">Поддон</text>
<text x="293.8" y="565.1" textLength="90.5" lengthAdjust="spacingAndGlyphs">с кирпичами</text>

<text x="498.5" y="554.9" textLength="107.9" lengthAdjust="spacingAndGlyphs">Плиты и панели</text>

<text x="698.3" y="554" textLength="116" lengthAdjust="spacingAndGlyphs">Железобетонная</text>
<text x="737" y="569.7" textLength="38.8" lengthAdjust="spacingAndGlyphs">плита</text>
</g>

<!-- zoom button -->
<circle cx="811.3" cy="567.1" r="23.7" fill="#5b5f78"/>
<circle cx="809.5" cy="564.8" r="7.3" fill="none" stroke="#fff" stroke-width="2.2"/>
<path d="M815,570.3 L820.5,575.8" stroke="#fff" stroke-width="2.6" stroke-linecap="round"/>
<path d="M809.5,561 L809.5,568.6 M805.7,564.8 L813.3,564.8" stroke="#fff" stroke-width="2" stroke-linecap="round"/>
</svg>
</body></html>
